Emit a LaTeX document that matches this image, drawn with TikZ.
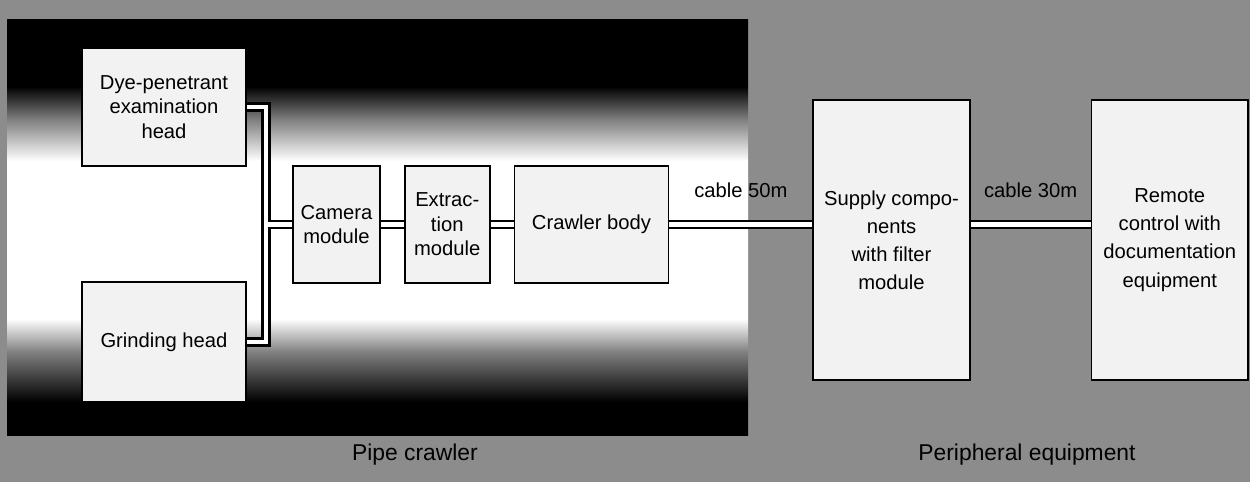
\documentclass[tikz,border=0pt]{standalone}
\usepackage{fontspec}
\setmainfont{Liberation Sans}
\usetikzlibrary{positioning,calc,backgrounds}

\pgfdeclareverticalshading{pipeshade}{100bp}{color(0bp)=(black); color(29bp)=(black); color(35bp)=(gray); color(39bp)=(white); color(58bp)=(white); color(63bp)=(gray); color(67bp)=(black); color(100bp)=(black)}

\begin{document}
\begin{tikzpicture}[
    node distance=0.46cm,
    module/.style={draw, line width=1pt, fill=gray!10, align=center, inner sep=2pt, font=\fontsize{11.5}{14}\selectfont},
    tall/.style={module, minimum width=3.13cm, minimum height=5.6cm, font=\fontsize{11.5}{16}\selectfont},
    cable/.style={draw, line width=1.5pt, double=white, double distance=2.6pt},
    region/.style={font=\fontsize{13}{15}\selectfont}
]
\useasboundingbox (0,0) rectangle (25,9.64);

% Tool heads
\node[module, minimum width=3.28cm, minimum height=2.36cm] (dye) at (3.28,7.5) {Dye-penetrant\\examination\\head};
\node[module, minimum width=3.28cm, minimum height=2.4cm] (grind) at (3.28,2.8) {Grinding head};

% Crawler train
\node[module, minimum width=1.74cm, minimum height=2.34cm] (camera) at (6.73,5.15) {Camera\\module};
\node[module, minimum width=1.7cm, minimum height=2.34cm, right=of camera] (extract) {Extrac-\\tion\\module};
\node[module, minimum width=3.08cm, minimum height=2.34cm, right=of extract] (crawler) {Crawler body};

% Peripheral equipment
\node[tall] (supply) at (17.83,4.84) {Supply compo-\\nents\\with filter\\module};
\node[tall, right=2.4cm of supply] (remote) {Remote\\control with\\documentation\\equipment};

% Region labels
\node[region] (pipelabel) at (8.3,0.54) {Pipe crawler};
\node[region] (perilabel) at (20.54,0.54) {Peripheral equipment};

\begin{scope}[on background layer]
% Background and pipe
\fill[black!45] (0,0) rectangle (25,9.64);
\shade[shading=pipeshade] (0.14,0.94) rectangle (14.96,9.24);

% Cables
\coordinate (bus) at (5.32,5.15);
\draw[cable] (dye.east) -| (bus |- grind.east) -- (grind.east)
    (bus) -- (camera.west);
\draw[cable] (camera.east) -- (extract.west);
\draw[cable] (extract.east) -- (crawler.west);
\draw[cable] (crawler.east) -- node[above=11pt, font=\fontsize{11.5}{14}\selectfont] (cab50) {cable 50m} (crawler.east -| supply.west);
\draw[cable] (supply.east |- crawler.east) -- node[above=11pt, font=\fontsize{11.5}{14}\selectfont] (cab30) {cable 30m} (remote.west |- crawler.east);
\end{scope}
\end{tikzpicture}
\end{document}
